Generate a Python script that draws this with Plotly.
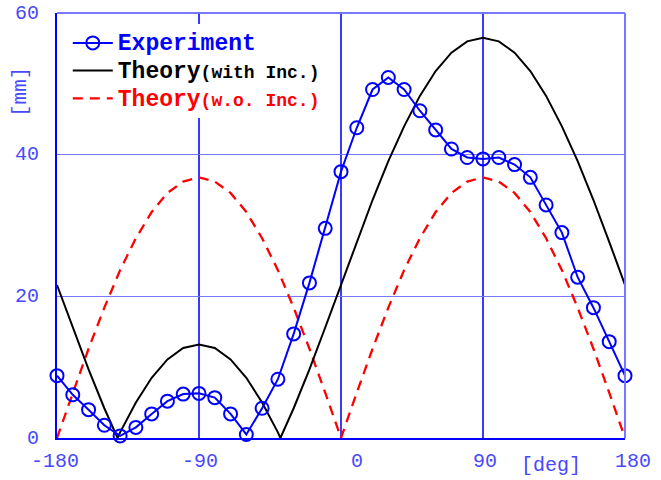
import plotly.graph_objects as go

# ---- data ----
exp_x = list(range(-180, 181, 10))
exp_y = [8.8, 6.1, 4.0, 1.8, 0.3, 1.5, 3.4, 5.2, 6.2, 6.3,
         5.7, 3.4, 0.5, 4.2, 8.3, 14.7, 21.9, 29.6, 37.6, 43.8,
         49.2, 50.9, 49.2, 46.2, 43.5, 40.8, 39.6, 39.4, 39.6, 38.6,
         36.8, 32.9, 29.0, 22.7, 18.4, 13.6, 8.8]

th_inc_x = [-180, -170, -160, -150, -141.6, -140, -130, -120, -110, -100,
            -90, -80, -70, -60, -50, -40, -38.4, -30, -20, -10,
            0, 10, 20, 30, 40, 50, 60, 70, 80, 90,
            100, 110, 120, 130, 140, 150, 160, 170, 180]
th_inc_y = [21.6, 15.6, 9.7, 4.2, 0.0, 0.8, 5.0, 8.5, 11.1, 12.7,
            13.2, 12.7, 11.1, 8.5, 5.0, 0.8, 0.0, 4.2, 9.7, 15.6,
            21.6, 27.7, 33.6, 39.1, 44.0, 48.3, 51.8, 54.4, 56.0, 56.5,
            56.0, 54.4, 51.8, 48.3, 44.0, 39.1, 33.6, 27.7, 21.6]

th_wo_x = list(range(-180, 181, 10))
th_wo_y = [0.0, 6.4, 12.6, 18.4, 23.7, 28.2, 31.9, 34.6, 36.2, 36.8,
           36.2, 34.6, 31.9, 28.2, 23.7, 18.4, 12.6, 6.4, 0.0,
           6.4, 12.6, 18.4, 23.7, 28.2, 31.9, 34.6, 36.2, 36.8,
           36.2, 34.6, 31.9, 28.2, 23.7, 18.4, 12.6, 6.4, 0.0]

x_ticks = [-180, -90, 0, 90, 180]
x_tick_text = ["-180", "-90", "0", "90", "180"]
y_ticks = [0, 20, 40, 60]
y_tick_text = ["0", "20", "40", "60"]

BLUE = "#0000ff"
LBLUE = "#4848ff"
GRID_X = "#3a3aff"
GRID_Y = "#7878ff"
MONO = "Liberation Mono, Courier New, monospace"

fig = go.Figure()

fig.add_trace(go.Scatter(
    x=th_wo_x, y=th_wo_y, mode="lines",
    line=dict(color="#ff0000", width=2.3, dash="10px,7px"),
    name='<span style="color:#ff0000;font-size:23px">Theory</span>'
         '<span style="color:#ff0000;font-size:18px">(w.o. Inc.)</span>',
    cliponaxis=False,
))
fig.add_trace(go.Scatter(
    x=th_inc_x, y=th_inc_y, mode="lines",
    line=dict(color="#000000", width=2),
    name='<span style="color:#000000;font-size:23px">Theory</span>'
         '<span style="color:#000000;font-size:18px">(with Inc.)</span>',
))
fig.add_trace(go.Scatter(
    x=exp_x, y=exp_y, mode="lines+markers",
    line=dict(color=BLUE, width=2),
    marker=dict(symbol="circle-open", size=13, color=BLUE, line=dict(width=2, color=BLUE)),
    name='<span style="color:#0000ff;font-size:23px">Experiment</span>',
    cliponaxis=False,
))

annotations = []
x_shifts = [-2, 1, 16, 2, 8]
for v, t, s in zip(x_ticks, x_tick_text, x_shifts):
    annotations.append(dict(x=v, y=0, xref="x", yref="paper", text=t,
                            showarrow=False, xanchor="center", yanchor="middle",
                            xshift=s, yshift=-23,
                            font=dict(family=MONO, size=20, color=LBLUE)))
for v, t in zip(y_ticks, y_tick_text):
    annotations.append(dict(x=0, y=v, xref="paper", yref="y", text=t,
                            showarrow=False, xanchor="right", yanchor="middle",
                            xshift=-16, yshift=0,
                            font=dict(family=MONO, size=20, color=LBLUE)))
annotations.append(dict(x=(551 - 57) / 568, y=0, xref="paper", yref="paper", text="[deg]",
                        showarrow=False, xanchor="center", yanchor="middle",
                        yshift=-27,
                        font=dict(family=MONO, size=20, color=LBLUE)))
annotations.append(dict(x=0, y=1, xref="paper", yref="paper", text="[mm]",
                        showarrow=False, xanchor="center", yanchor="middle",
                        textangle=-90, xshift=-37, yshift=-79,
                        font=dict(family=MONO, size=21, color=LBLUE)))

fig.update_layout(
    width=661, height=480,
    margin=dict(l=57, r=36, t=13, b=42),
    paper_bgcolor="white", plot_bgcolor="white",
    showlegend=True,
    legend=dict(x=0.019, y=0.974, xanchor="left", yanchor="top",
                bgcolor="white", borderwidth=0,
                font=dict(family=MONO, size=19, weight="bold"),
                traceorder="reversed", itemwidth=40,
                tracegroupgap=0),
    annotations=annotations,
    shapes=[
        dict(type="line", xref="paper", yref="paper", x0=0, x1=1, y0=1, y1=1,
             line=dict(color=GRID_Y, width=2)),
        dict(type="line", xref="paper", yref="paper", x0=1, x1=1, y0=0, y1=1,
             line=dict(color=GRID_Y, width=2)),
    ],
)
fig.update_xaxes(range=[-180, 180], tickvals=x_ticks, showticklabels=False,
                 showgrid=True, gridcolor=GRID_X, gridwidth=1.6,
                 zeroline=False, showline=True, linecolor=BLUE, linewidth=2,
                 ticks="")
fig.update_yaxes(range=[0, 60], tickvals=y_ticks, showticklabels=False,
                 showgrid=True, gridcolor=GRID_Y, gridwidth=1.3,
                 zeroline=False, showline=True, linecolor=BLUE, linewidth=2,
                 ticks="")

fig.write_html("out.html")
